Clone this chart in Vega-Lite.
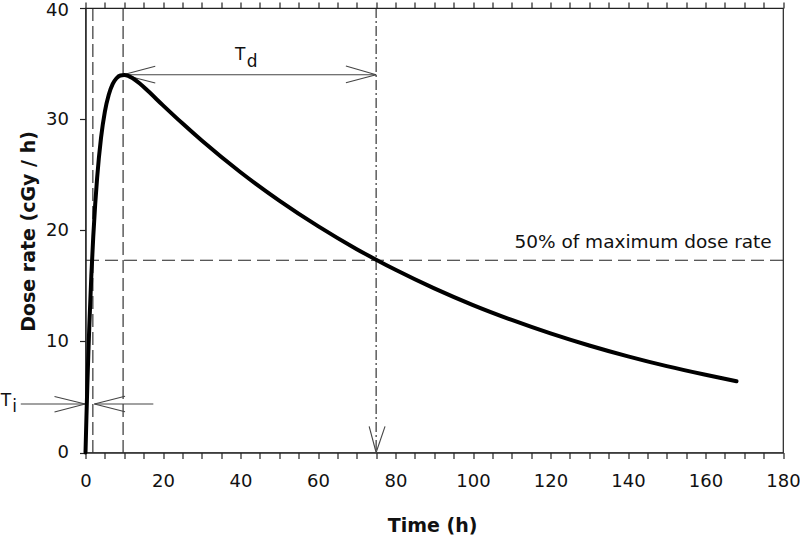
{
  "$schema": "https://vega.github.io/schema/vega-lite/v6.json",
  "width": 697.5,
  "height": 444.5,
  "autosize": "none",
  "padding": {"left": 85.5, "top": 8, "right": 17, "bottom": 85.5},
  "background": "white",
  "config": {
    "font": "DejaVu Sans",
    "view": {"stroke": "#222", "strokeWidth": 1.2},
    "axis": {"domainColor": "#222", "tickColor": "#222", "labelColor": "#111", "titleColor": "#111", "grid": false, "labelFont": "DejaVu Sans", "titleFont": "DejaVu Sans", "domainWidth": 1.2, "tickWidth": 1.2}
  },
  "datasets": {
    "curve": [
      {"t": 0, "rate": 0}, {"t": 0.25, "rate": 3.31}, {"t": 0.5, "rate": 6.33}, {"t": 0.75, "rate": 9.07},
      {"t": 1, "rate": 11.56}, {"t": 1.5, "rate": 15.87}, {"t": 2, "rate": 19.42}, {"t": 2.5, "rate": 22.33},
      {"t": 3, "rate": 24.72}, {"t": 4, "rate": 28.3}, {"t": 5, "rate": 30.68}, {"t": 6, "rate": 32.2},
      {"t": 7, "rate": 33.15}, {"t": 8, "rate": 33.68}, {"t": 9, "rate": 33.93}, {"t": 10, "rate": 33.97},
      {"t": 11, "rate": 33.9}, {"t": 12, "rate": 33.72}, {"t": 14, "rate": 33.2}, {"t": 16, "rate": 32.57},
      {"t": 20, "rate": 31.24}, {"t": 25, "rate": 29.62}, {"t": 30, "rate": 28.07}, {"t": 40, "rate": 25.22},
      {"t": 50, "rate": 22.67}, {"t": 60, "rate": 20.37}, {"t": 70, "rate": 18.3}, {"t": 75, "rate": 17.35},
      {"t": 80, "rate": 16.44}, {"t": 90, "rate": 14.77}, {"t": 100, "rate": 13.27}, {"t": 110, "rate": 11.93},
      {"t": 120, "rate": 10.72}, {"t": 130, "rate": 9.63}, {"t": 140, "rate": 8.65}, {"t": 150, "rate": 7.77},
      {"t": 160, "rate": 6.99}, {"t": 168, "rate": 6.41}
    ],
    "vlinesA": [{"x": 1.9}, {"x": 9.7}],
    "vlinesB": [{"x": 75}],
    "hline": [{"y": 17.3}],
    "segments": [
      {"x": 9.7, "y": 34.0, "x2": 75, "y2": 34.0},
      {"x": 9.7, "y": 34.0, "x2": 18.0, "y2": 34.75},
      {"x": 9.7, "y": 34.0, "x2": 18.0, "y2": 33.25},
      {"x": 75, "y": 34.0, "x2": 67.2, "y2": 34.78},
      {"x": 75, "y": 34.0, "x2": 67.2, "y2": 33.28},
      {"x": -16.7, "y": 4.37, "x2": -0.1, "y2": 4.37},
      {"x": -0.1, "y": 4.37, "x2": -8.0, "y2": 5.04},
      {"x": -0.1, "y": 4.37, "x2": -8.0, "y2": 3.64},
      {"x": 2.3, "y": 4.37, "x2": 17.5, "y2": 4.37},
      {"x": 2.3, "y": 4.37, "x2": 10.2, "y2": 5.06},
      {"x": 2.3, "y": 4.37, "x2": 10.2, "y2": 3.66},
      {"x": 75, "y": 0, "x2": 73.2, "y2": 2.35},
      {"x": 75, "y": 0, "x2": 77.3, "y2": 2.35}
    ],
    "labelsLeft": [
      {"x": 38.6, "y": 35.33, "text": "T"},
      {"x": 41.6, "y": 34.7, "text": "d"},
      {"x": -21.9, "y": 4.22, "text": "T"},
      {"x": -18.9, "y": 3.67, "text": "i"}
    ],
    "labelsRight": [
      {"x": 177.1, "y": 18.38, "text": "50% of maximum dose rate"}
    ],
    "ticks": [{"x": 0}]
  },
  "resolve": {"axis": {"x": "independent", "y": "independent"}},
  "layer": [
    {
      "data": {"name": "ticks"},
      "mark": {"type": "rule", "opacity": 0},
      "encoding": {
        "x": {"field": "x", "type": "quantitative", "scale": {"domain": [0, 180], "nice": false},
          "axis": {"orient": "top", "values": [0,5,10,15,20,25,30,35,40,45,50,55,60,65,70,75,80,85,90,95,100,105,110,115,120,125,130,135,140,145,150,155,160,165,170,175,180], "labels": false, "domain": false, "tickSize": 6, "title": null}}
      }
    },
    {
      "data": {"name": "vlinesA"},
      "mark": {"type": "rule", "color": "#222", "strokeWidth": 1.1, "strokeDash": [13, 5]},
      "encoding": {"x": {"field": "x", "type": "quantitative", "axis": null}}
    },
    {
      "data": {"name": "vlinesB"},
      "mark": {"type": "rule", "color": "#222", "strokeWidth": 1.1, "strokeDash": [10, 3, 2, 3]},
      "encoding": {"x": {"field": "x", "type": "quantitative", "axis": null}}
    },
    {
      "data": {"name": "hline"},
      "mark": {"type": "rule", "color": "#222", "strokeWidth": 1.1, "strokeDash": [13, 6]},
      "encoding": {"y": {"field": "y", "type": "quantitative", "axis": null}}
    },
    {
      "data": {"name": "segments"},
      "mark": {"type": "rule", "color": "#444", "strokeWidth": 1.1},
      "encoding": {
        "x": {"field": "x", "type": "quantitative", "axis": null},
        "y": {"field": "y", "type": "quantitative", "axis": null},
        "x2": {"field": "x2"},
        "y2": {"field": "y2"}
      }
    },
    {
      "data": {"name": "curve"},
      "mark": {"type": "line", "color": "#000", "strokeWidth": 4, "interpolate": "monotone", "strokeCap": "round"},
      "encoding": {
        "x": {"field": "t", "type": "quantitative", "scale": {"domain": [0, 180], "nice": false},
          "axis": {"orient": "bottom", "values": [0,5,10,15,20,25,30,35,40,45,50,55,60,65,70,75,80,85,90,95,100,105,110,115,120,125,130,135,140,145,150,155,160,165,170,175,180],
            "labelExpr": "datum.value % 20 === 0 ? datum.label : ''", "labelOverlap": false, "labelFlush": false,
            "tickSize": 6, "labelPadding": 14, "labelFontSize": 18,
            "title": "Time (h)", "titleFontSize": 19, "titleFontWeight": "bold", "titleBaseline": "alphabetic", "titleX": 346.5, "titleY": 79, "titleAlign": "center"}},
        "y": {"field": "rate", "type": "quantitative", "scale": {"domain": [0, 40], "nice": false},
          "axis": {"orient": "left", "values": [0, 10, 20, 30, 40], "tickSize": 6, "labelPadding": 11, "labelFontSize": 18,
            "labelOffset": {"condition": {"test": "datum.value === 40", "value": 2.5}, "value": 0},
            "title": "Dose rate (cGy / h)", "titleFontSize": 19, "titleFontWeight": "bold", "titleAngle": 270, "titleBaseline": "alphabetic", "titleAlign": "center", "titleX": -51, "titleY": 223}}
      }
    },
    {
      "data": {"name": "labelsLeft"},
      "mark": {"type": "text", "align": "left", "baseline": "alphabetic", "fontSize": 17, "color": "#111"},
      "encoding": {
        "x": {"field": "x", "type": "quantitative", "axis": null},
        "y": {"field": "y", "type": "quantitative", "axis": null},
        "text": {"field": "text"}
      }
    },
    {
      "data": {"name": "labelsRight"},
      "mark": {"type": "text", "align": "right", "baseline": "alphabetic", "fontSize": 18.5, "color": "#111"},
      "encoding": {
        "x": {"field": "x", "type": "quantitative", "axis": null},
        "y": {"field": "y", "type": "quantitative", "axis": null},
        "text": {"field": "text"}
      }
    }
  ]
}
